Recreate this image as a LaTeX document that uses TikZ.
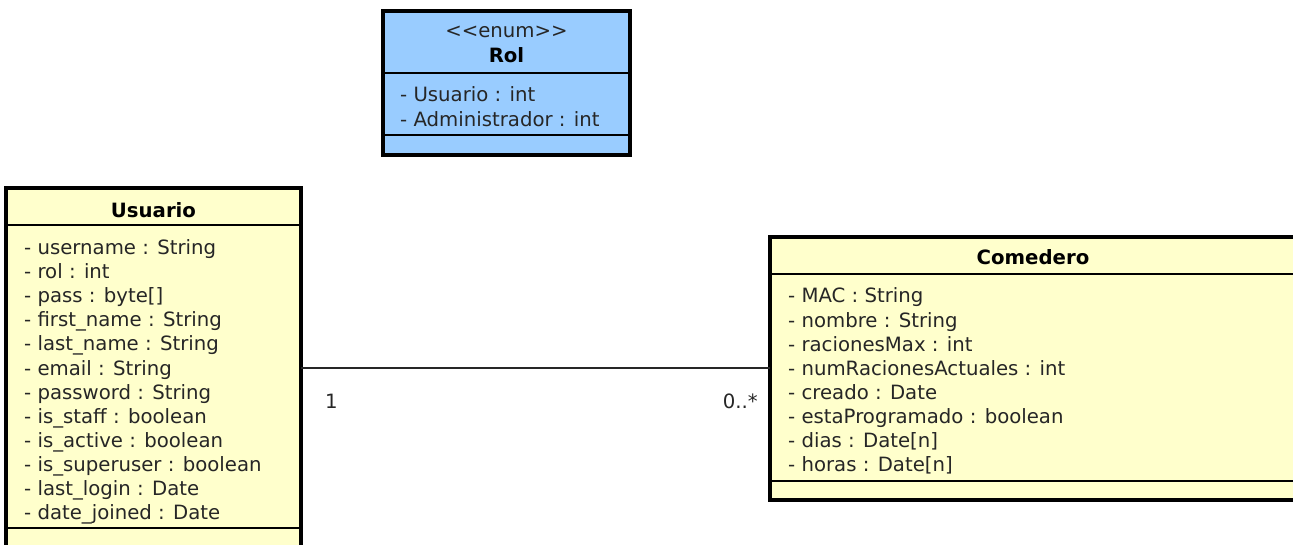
\documentclass[tikz,border=0pt]{standalone}
\usepackage{fontspec}
\setmainfont{DejaVu Sans}[Ligatures=TeXOff]
\usepackage{xcolor}
\definecolor{Pale Sky}{HTML}{99CCFF}
\definecolor{Pale Cream}{HTML}{FFFFCC}
\colorlet{cBlue}{Pale Sky}
\colorlet{cYellow}{Pale Cream}
\colorlet{cText}{black!85}
\usepackage{tikz}
\usetikzlibrary{calc, positioning}
\tikzset{
	font = \fontsize{19.7}{24}\selectfont,
	compartment/.style={
		draw,
		line width=1.2pt,
		anchor=north west,
		inner sep=0pt,
		outer sep=0pt
	},
	class border/.style={
		draw,
		line width=3.5pt
	},
	member/.style={
		anchor=base west,
		inner sep=0pt,
		text=cText
	},
	class name/.style={
		anchor=base,
		inner sep=0pt,
		font=\fontsize{19.7}{24}\selectfont\bfseries
	},
	stereotype/.style={
		anchor=base,
		inner sep=0pt,
		text=cText
	},
	association/.style={
		draw=black!85,
		line width=1.3pt
	},
	multiplicity/.style={
		inner sep=0pt,
		text=cText
	}
}

\begin{document}
\begin{tikzpicture}[x=1pt, y=-1pt]
		\useasboundingbox (0,0) rectangle (1293,545);
		\clip (0,0) rectangle (1293,545);

		% enum Rol
		\node[compartment, fill=cBlue, minimum width=247, minimum height=62] (rolhead) at (383,11) {};
		\node[compartment, fill=cBlue, minimum width=247, minimum height=62] (rolattrs) at (rolhead.south west) {};
		\node[compartment, fill=cBlue, minimum width=247, minimum height=20] (rolops) at (rolattrs.south west) {};
		\draw[class border] (rolhead.north west) rectangle (rolops.south east);
		\node[stereotype] (rolstereo) at ($(rolhead.north)+(0,27)$) {<<enum>>};
		\node[class name] (roltitle) at ($(rolhead.north)+(0,52)$) {Rol};
		\foreach \m [count=\i from 0] in {{- Usuario : int}, {- Administrador : int}}
			\node[member] (rol-\i) at ($(rolattrs.north west)+(17,29+24.1*\i)$) {\m};

		% class Usuario
		\node[compartment, fill=cYellow, minimum width=295, minimum height=37] (usuhead) at (6,188) {};
		\node[compartment, fill=cYellow, minimum width=295, minimum height=303] (usuattrs) at (usuhead.south west) {};
		\node[compartment, fill=cYellow, minimum width=295, minimum height=22] (usuops) at (usuattrs.south west) {};
		\draw[class border] (usuhead.north west) rectangle (usuops.south east);
		\node[class name] (usutitle) at ($(usuhead.north)+(0,30)$) {Usuario};
		\foreach \m [count=\i from 0] in {
				{- username : String}, {- rol : int}, {- pass : byte[]},
				{- first\_name : String}, {- last\_name : String}, {- email : String},
				{- password : String}, {- is\_staff : boolean}, {- is\_active : boolean},
				{- is\_superuser : boolean}, {- last\_login : Date}, {- date\_joined : Date}}
			\node[member] (usu-\i) at ($(usuattrs.north west)+(18,29.5+24.1*\i)$) {\m};

		% class Comedero
		\node[compartment, fill=cYellow, minimum width=526, minimum height=37] (comhead) at (770,237) {};
		\node[compartment, fill=cYellow, minimum width=526, minimum height=207] (comattrs) at (comhead.south west) {};
		\node[compartment, fill=cYellow, minimum width=526, minimum height=19] (comops) at (comattrs.south west) {};
		\draw[class border] (comhead.north west) rectangle (comops.south east);
		\node[class name] (comtitle) at ($(comhead.north)+(0,28)$) {Comedero};
		\foreach \m [count=\i from 0] in {
				{- MAC : String}, {- nombre : String}, {- racionesMax : int},
				{- numRacionesActuales : int}, {- creado : Date},
				{- estaProgramado : boolean}, {- dias : Date[n]}, {- horas : Date[n]}}
			\node[member] (com-\i) at ($(comattrs.north west)+(18,29+24*\i)$) {\m};

		% association Usuario 1 -- 0..* Comedero
		\coordinate (link) at (0,368);
		\draw[association] (usuattrs.east |- link) coordinate (linkstart)
			-- (comattrs.west |- link) coordinate (linkend);
		\node[multiplicity, anchor=base west] (multusu) at ($(linkstart)+(24,40)$) {1};
		\node[multiplicity, anchor=base east] (multcom) at ($(linkend)+(-12,40)$) {0..*};
	\end{tikzpicture}
\end{document}
